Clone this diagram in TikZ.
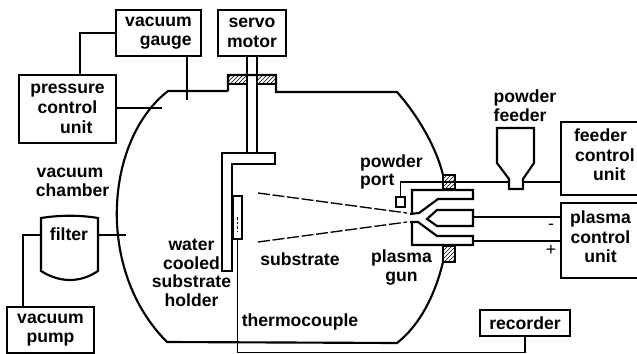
\documentclass[tikz,border=0pt]{standalone}
\usepackage{fontspec}
\setmainfont{Liberation Sans}
\usetikzlibrary{patterns}
\begin{document}
\begin{tikzpicture}[x=.75pt,y=-.75pt]
		\tikzset{unitbox/.style = {shape=rectangle,draw,line width=1.4pt,inner sep=0pt,font=\bfseries\fontsize{13.2}{14.8}\selectfont}}
		\tikzset{tag/.style = {inner sep=0pt,font=\bfseries\fontsize{13.2}{14}\selectfont}}
		\tikzset{wire/.style = {draw,line width=1.3pt}}
		\tikzset{wall/.style = {draw,line width=1.6pt}}
		\tikzset{seal/.style = {draw,line width=1.3pt,pattern=north east lines}}
		\useasboundingbox (0,0) rectangle (637,354);
		% boxes
		\node[unitbox,minimum width=63.75pt,minimum height=34.5pt,align=right] (gauge) at (158.5,33) {vacuum\\gauge};
		\node[unitbox,minimum width=51pt,minimum height=34.5pt,align=center] (servo) at (252,33) {servo\\motor};
		\node[unitbox,minimum width=72.75pt,minimum height=51pt,align=center] (pressure) at (67.5,109) {pressure\\control\\\hspace*{1em}unit};
		\node[unitbox,minimum width=59.25pt,minimum height=54.75pt,align=center] (feeder) at (600.5,158.5) {feeder\\\hspace*{.5em}control\\\hspace*{1em}unit\rule[-5.5pt]{0pt}{0pt}};
		\node[unitbox,minimum width=59.25pt,minimum height=56.25pt,align=center] (plasma) at (600.5,240.5) {plasma\\control\\unit\rule[-5.5pt]{0pt}{0pt}};
		\node[unitbox,minimum width=65.25pt,minimum height=34.5pt,align=center] (pump) at (50.5,330) {vacuum\\pump};
		\node[unitbox,minimum width=67.5pt,minimum height=19.5pt] (recorder) at (525,323) {recorder};
		\node[draw,line width=1.3pt,inner sep=0pt,minimum width=6.75pt,minimum height=7.5pt] (port) at (400.5,202) {};
		\node[draw,line width=1.3pt,inner sep=0pt,minimum width=6.75pt,minimum height=32.25pt] (sample) at (237.5,217.5) {};
		% chamber
		\path[wall] (228,91) -- (168,91) .. controls (105,140) and (95,270) .. (167,342) -- (397,343) .. controls (420,325) and (435,295) .. (443,262);
		\path[wall] (443,175) .. controls (437,150) and (420,118) .. (397,92) -- (276,92) -- (276,75) -- (228,75) -- (228,91);
		\path[seal] (228,75) rectangle (247,84);
		\path[seal] (257,75) rectangle (276,84);
		\path[seal] (443,175) rectangle (455,189);
		\path[seal] (443,246) rectangle (455,262);
		% shaft and holder
		\path[wire] (247,56) -- (247,153);
		\path[wire] (257,56) -- (257,153);
		\path[wire] (222,153) -- (275,153) -- (275,164) -- (232,164) -- (232,271) -- (222,271) -- cycle;
		% plasma gun
		\path[wall] (410,214) -- (419,213) -- (438,199) -- (473,199) -- (473,190) -- (412,190) -- (412,213);
		\path[wall] (473,210) -- (437,210) -- (427,219) -- (437,226) -- (473,226) -- cycle;
		\path[wall] (410,222) -- (418,222) -- (437,236) -- (473,236) -- (473,245) -- (412,245) -- (412,222);
		\path[draw,line width=1pt,dashed,dash pattern=on 9pt off 2pt] (258,193) -- (407,213);
		\path[draw,line width=1pt,dashed,dash pattern=on 9pt off 2pt] (258,242) -- (407,222);
		% feeder and filter
		\path[wall] (497,128) -- (534,128) -- (534,163) -- (523,179) -- (523,189) -- (509,189) -- (509,179) -- (497,163) -- cycle;
		\path[wall] (41,218) .. controls (60,215) and (80,215) .. (98,218) -- (98,271) .. controls (80,283) and (60,283) .. (41,271) -- cycle;
		\coordinate (gaugeend) at (187,100);
		\coordinate (pressureend) at (162,108);
		\coordinate (hopperl) at (509,182);
		\coordinate (hopperr) at (523,182);
		\coordinate (filterl) at (41,235);
		\coordinate (filterr) at (98,235);
		\coordinate (filterend) at (126,235);
		\coordinate (gunmid) at (473,217);
		\coordinate (gunlow) at (473,241);
		% wires
		\path[wire] (gauge.west) -| (pressure.north -| 80,75);
		\path[wire] (gauge.south -| gaugeend) -- (gaugeend);
		\path[wire] (pressure.east |- pressureend) -- (pressureend);
		\path[wire] (port.north) |- (hopperl);
		\path[wire] (hopperr) -- (feeder.west |- hopperr);
		\path[wire] (gunmid) -- (plasma.west |- gunmid);
		\path[wire] (gunlow) -- (plasma.west |- gunlow);
		\path[wire] (filterr) -- (filterend);
		\path[wire] (filterl) -| (pump.north -| 23,307);
		\path[wire] (sample.south) -- (237.5,352.5) -| (recorder.south);
		\path[draw,line width=1pt,dashed,dash pattern=on 2pt off 1.5pt] (sample.center |- 0,217) -- (sample.center |- 0,232);
		% labels
		\node[tag,align=center] (chamber) at (70,182.5) {vacuum\\\hspace*{.3em}chamber};
		\node[tag] (filter) at (69,234) {filter};
		\node[tag,align=center] (holder) at (191.5,273) {water\\cooled\\substrate\\holder};
		\node[tag] (substrate) at (300,259) {substrate};
		\node[tag,align=center] (gun) at (401.5,267.5) {plasma\\gun};
		\node[tag,align=left] (powderport) at (391.5,172) {powder\\port};
		\node[tag,align=left] (powderfeeder) at (525,105.5) {powder\\feeder};
		\node[tag] (thermocouple) at (300,322) {thermocouple};
		\node[tag,font=\fontsize{13.2}{14}\selectfont] (minus) at (551,227) {-};
		\node[tag,font=\fontsize{13.2}{14}\selectfont] (plus) at (551,250) {+};
	\end{tikzpicture}
\end{document}
